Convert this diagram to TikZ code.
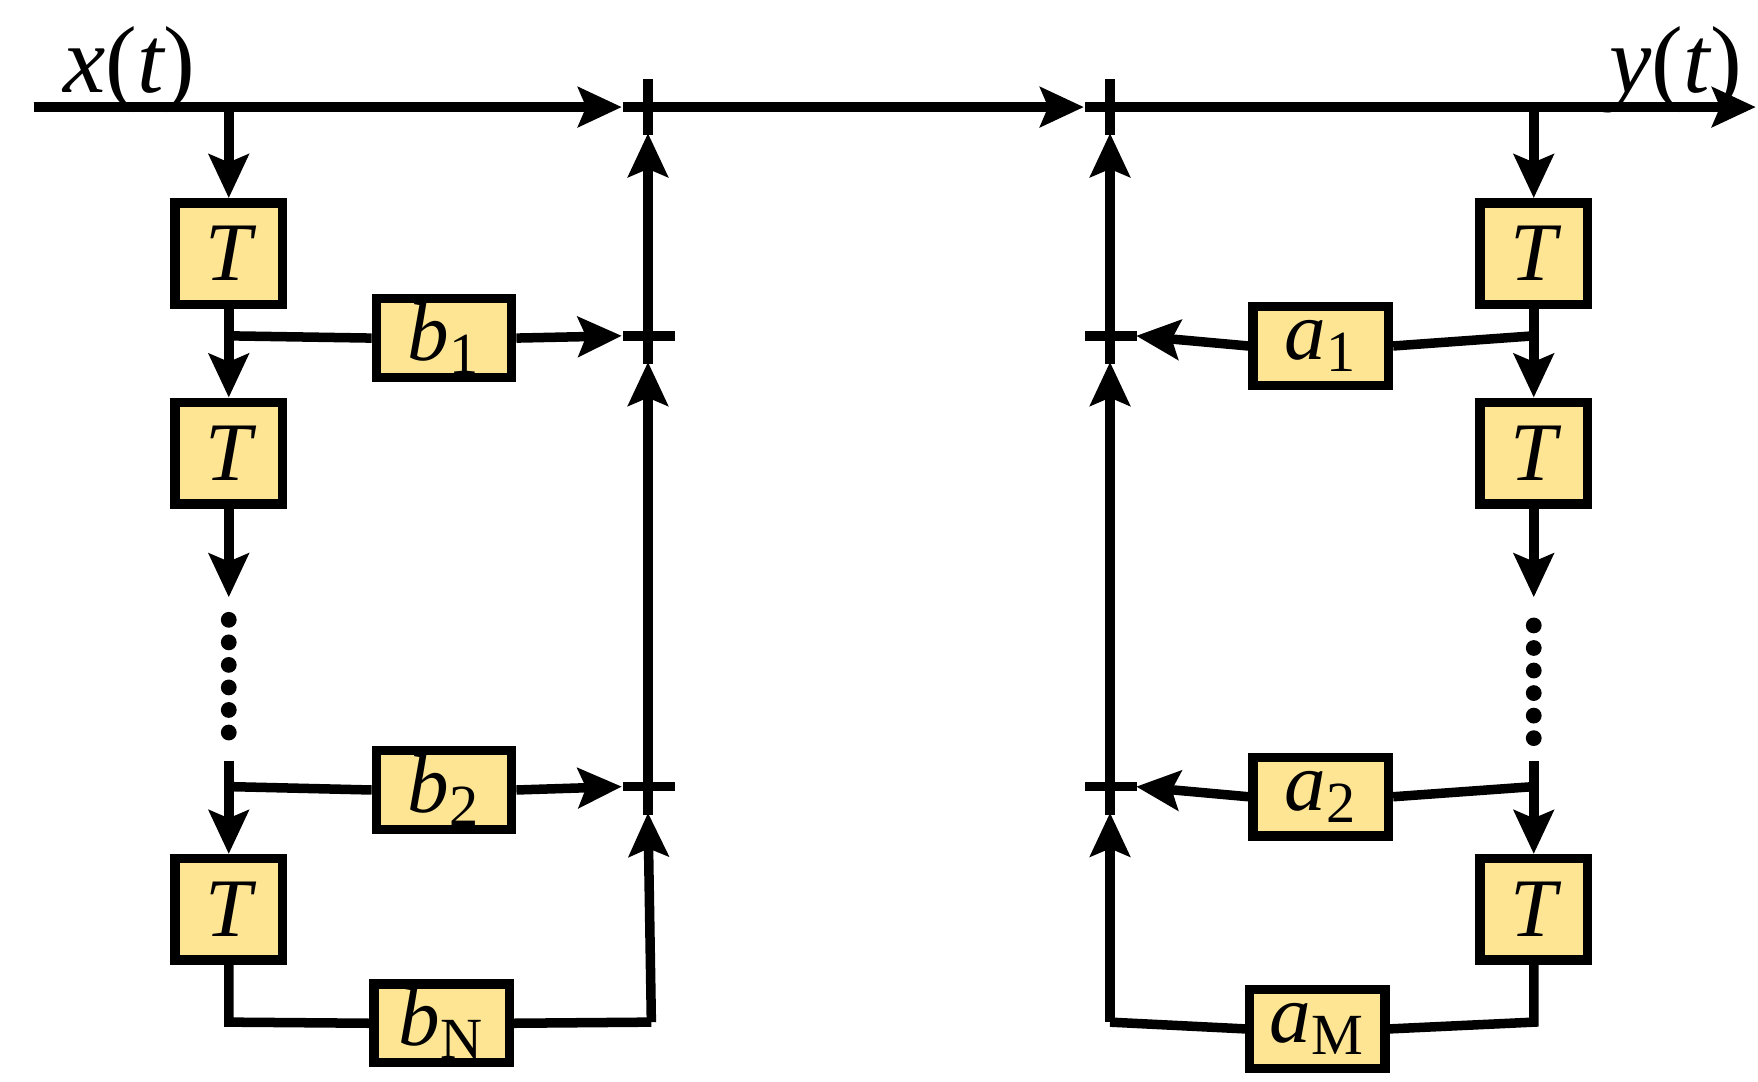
\documentclass[tikz,border=0pt]{standalone}
\usepackage{fontspec}
\setmainfont{Liberation Serif}
\usetikzlibrary{arrows.meta}
\begin{document}
\begin{tikzpicture}[x=0.01cm,y=-0.01cm,
  ln/.style={line width=2.4pt},
  ar/.style={ln,-{Stealth[length=11pt,width=10pt,inset=2pt]}},
  blk/.style={draw,line width=2.4pt,fill=yellow!40!orange!25!white,fill=boxc,minimum width=0.95cm,minimum height=0.9cm,inner sep=0pt,font=\fontsize{21}{24}\selectfont\itshape},
  coef/.style={blk,minimum width=1.2cm,minimum height=0.7cm},
  plus/.style={inner sep=0pt,minimum size=0.45cm}]
\definecolor{boxc}{RGB}{253,229,148}
\useasboundingbox (0,0) rectangle (1560,960);
% nodes
\node[plus] (p1) at (575,95) {};
\node[plus] (p2) at (575,298) {};
\node[plus] (p3) at (575,698) {};
\node[plus] (q1) at (985,95) {};
\node[plus] (q2) at (985,298) {};
\node[plus] (q3) at (985,698) {};
\foreach \p in {p1,p2,p3,q1,q2,q3}{
  \draw[ln] ([xshift=-0.22cm]\p.center) -- ([xshift=0.24cm]\p.center);
  \draw[ln] ([yshift=0.25cm]\p.center) -- ([yshift=-0.25cm]\p.center);}
\coordinate (xs) at (30,95);
\coordinate (ye) at (1558,95);
\node[font=\fontsize{24}{28}\selectfont\itshape] (xl) at (115,62) {x\upshape(\itshape t\upshape)};
\node[font=\fontsize{24}{28}\selectfont\itshape] (yl) at (1487,62) {y\upshape(\itshape t\upshape)};
\node[blk] (T1) at (203,225) {T};
\node[blk] (T2) at (203,402) {T};
\node[blk] (T3) at (203,807) {T};
\node[blk] (S1) at (1361,225) {T};
\node[blk] (S2) at (1361,402) {T};
\node[blk] (S3) at (1361,807) {T};
\node[coef] (b1) at (394,300) {b\textsubscript{\upshape 1}};
\node[coef] (b2) at (394,701) {b\textsubscript{\upshape 2}};
\node[coef] (bN) at (392,908) {b\textsubscript{\upshape N}};
\node[coef] (a1) at (1172,307) {a\textsubscript{\upshape 1}};
\node[coef] (a2) at (1172,707) {a\textsubscript{\upshape 2}};
\node[coef] (aM) at (1169,913) {a\textsubscript{\upshape M}};
\coordinate (L0) at (203,95);
\coordinate (L1) at (203,298);
\coordinate (L2) at (203,530);
\coordinate (L3) at (203,675);
\coordinate (L4) at (203,698);
\coordinate (L5) at (203,907);
\coordinate (L6) at (578,907);
\coordinate (R0) at (1361,95);
\coordinate (R1) at (1361,298);
\coordinate (R2) at (1361,530);
\coordinate (R3) at (1361,675);
\coordinate (R4) at (1361,698);
\coordinate (R5) at (1361,907);
\coordinate (R6) at (985,907);
% main line
\draw[ar] (xs) -- (p1.west);
\draw[ar] (p1.east) -- (q1.west);
\draw[ar] (q1.east) -- (ye);
% left
\draw[ar] (L0) -- (T1.north);
\draw[ar] (T1.south) -- (T2.north);
\draw[ln] (L1) -- (b1.west);
\draw[ar] (b1.east) -- (p2.west);
\draw[ar] (T2.south) -- (L2);
\foreach \yy in {550,570,590,610,630,650} \fill (203,\yy) circle (0.07cm);
\draw[ar] (L3) -- (T3.north);
\draw[ln] (L4) -- (b2.west);
\draw[ar] (b2.east) -- (p3.west);
\draw[ln] (T3.south) -- (L5) -- (bN.west);
\draw[ln] (bN.east) -- (L6);
\draw[ar] (L6) -- (p3.south);
\draw[ar] (p3.north) -- (p2.south);
\draw[ar] (p2.north) -- (p1.south);
% right
\draw[ar] (R0) -- (S1.north);
\draw[ar] (S1.south) -- (S2.north);
\draw[ln] (R1) -- (a1.east);
\draw[ar] (a1.west) -- (q2.east);
\draw[ar] (S2.south) -- (R2);
\foreach \yy in {555,575,595,615,635,655} \fill (1361,\yy) circle (0.07cm);
\draw[ar] (R3) -- (S3.north);
\draw[ln] (R4) -- (a2.east);
\draw[ar] (a2.west) -- (q3.east);
\draw[ln] (S3.south) -- (R5) -- (aM.east);
\draw[ln] (aM.west) -- (R6);
\draw[ar] (R6) -- (q3.south);
\draw[ar] (q3.north) -- (q2.south);
\draw[ar] (q2.north) -- (q1.south);
\end{tikzpicture}
\end{document}
